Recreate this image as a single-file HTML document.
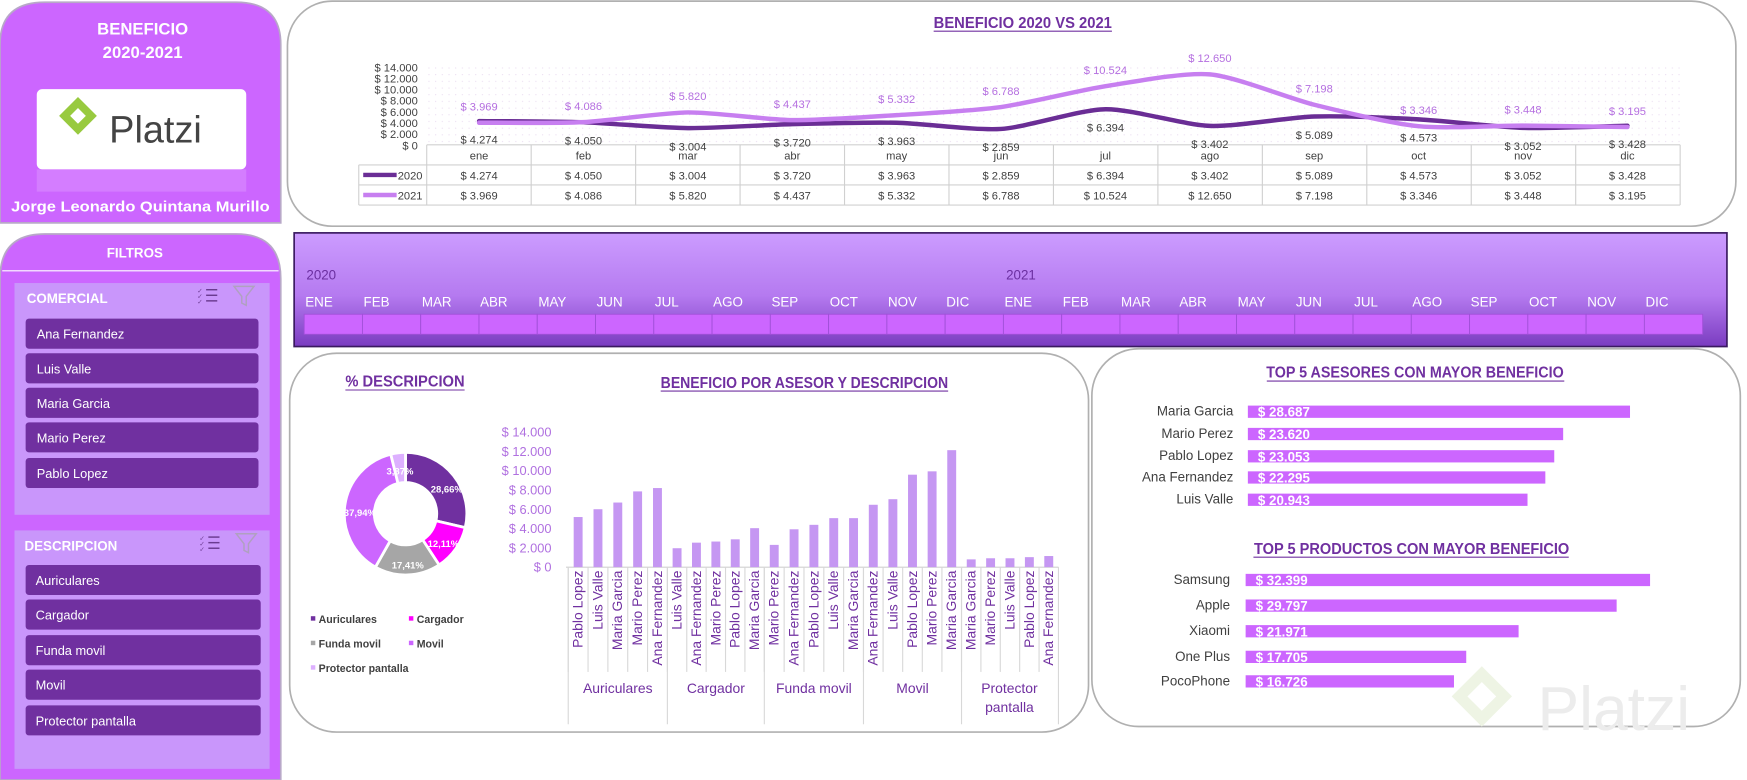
<!DOCTYPE html>
<html><head><meta charset="utf-8"><style>
html,body{margin:0;padding:0;background:#fff;width:1747px;height:780px;overflow:hidden}
svg{display:block}
text{font-family:"Liberation Sans Narrow","Liberation Sans",sans-serif}
</style></head><body>
<svg id="s" width="1747" height="780" viewBox="0 0 1568 700" preserveAspectRatio="none" xmlns="http://www.w3.org/2000/svg">
<defs>
<linearGradient id="tl" x1="0" y1="0" x2="0" y2="1"><stop offset="0" stop-color="#cc9cff"/><stop offset="0.55" stop-color="#b57af0"/><stop offset="1" stop-color="#7a3cc0"/></linearGradient>
<pattern id="dots" width="6" height="6" patternUnits="userSpaceOnUse"><circle cx="1" cy="1" r="0.5" fill="#e6d6ee"/></pattern>
</defs>
<!-- left top panel -->
<path d="M0,40 Q0,2 40,2 L212,2 Q252,2 252,40 L252,200 L0,200 Z" fill="#cc66ff" stroke="#b8a8c8" stroke-width="1.5"/>
<text x="128" y="31" text-anchor="middle" fill="#fff" font-weight="bold" font-size="15">BENEFICIO</text>
<text x="128" y="52" text-anchor="middle" fill="#fff" font-weight="bold" font-size="15">2020-2021</text>
<rect x="33" y="80" width="188" height="72" rx="5" fill="#fff"/>
<rect x="33" y="152" width="188" height="20" fill="#d88cff" opacity="0.6"/>
<path d="M70,92 L82,104 L70,116 L58,104 Z" fill="none" stroke="#98ca3f" stroke-width="7"/>
<text x="98" y="128" fill="#444" font-size="34" font-family="Liberation Sans">Platzi</text>
<text x="126" y="190" text-anchor="middle" fill="#fff" font-weight="bold" font-size="13" textLength="232" lengthAdjust="spacingAndGlyphs">Jorge Leonardo Quintana Murillo</text>
<!-- filtros panel -->
<path d="M0,250 Q0,210 40,210 L212,210 Q252,210 252,250 L252,700 L0,700 Z" fill="#cc66ff" stroke="#b8a8c8" stroke-width="1.5"/>
<text x="121" y="231" text-anchor="middle" fill="#fff" font-weight="bold" font-size="12">FILTROS</text>
<line x1="2" y1="243" x2="250" y2="243" stroke="#fff" stroke-width="1"/>
<rect x="13" y="254" width="229" height="208" fill="#c996fb"/>
<rect x="13" y="476" width="229" height="214" fill="#c996fb"/>
<text x="24" y="272" fill="#fff" font-weight="bold" font-size="12">COMERCIAL</text>
<text x="22" y="494" fill="#fff" font-weight="bold" font-size="12">DESCRIPCION</text>
<g id="btns"></g>
<!-- line chart panel -->
<rect x="258" y="1" width="1300" height="202" rx="40" fill="#fff" stroke="#b0b0b0" stroke-width="1.5"/>
<text x="918" y="25" text-anchor="middle" fill="#7030a0" font-weight="bold" font-size="14" textLength="160" lengthAdjust="spacingAndGlyphs">BENEFICIO 2020 VS 2021</text>
<line x1="838" y1="28" x2="998" y2="28" stroke="#7030a0" stroke-width="1"/>
<rect x="383" y="60" width="1125" height="70" fill="url(#dots)"/>
<g id="lc"></g>
<!-- timeline -->
<rect x="264" y="209" width="1286" height="102" fill="url(#tl)" stroke="#3a1a60" stroke-width="1.5"/>
<text x="275" y="251" fill="#6b2fa0" font-size="12">2020</text>
<text x="903" y="251" fill="#6b2fa0" font-size="12">2021</text>
<g id="tlg"></g>
<!-- lower left panel -->
<rect x="260" y="317" width="717" height="340" rx="42" fill="#fff" stroke="#b0b0b0" stroke-width="1.5"/>
<text x="310" y="347" fill="#7030a0" font-weight="bold" font-size="14" textLength="107" lengthAdjust="spacingAndGlyphs">%  DESCRIPCION</text>
<line x1="310" y1="350" x2="417" y2="350" stroke="#7030a0"/>
<text x="722" y="348" text-anchor="middle" fill="#7030a0" font-weight="bold" font-size="14" textLength="258" lengthAdjust="spacingAndGlyphs">BENEFICIO POR ASESOR Y DESCRIPCION</text>
<line x1="593" y1="351" x2="851" y2="351" stroke="#7030a0"/>
<g id="donut"></g>
<g id="bars"></g>
<!-- lower right panel -->
<rect x="980" y="313" width="582" height="339" rx="42" fill="#fff" stroke="#b0b0b0" stroke-width="1.5"/>
<text x="1270" y="339" text-anchor="middle" fill="#7030a0" font-weight="bold" font-size="14" textLength="267" lengthAdjust="spacingAndGlyphs">TOP 5 ASESORES CON MAYOR BENEFICIO</text>
<line x1="1137" y1="342" x2="1404" y2="342" stroke="#7030a0"/>
<text x="1267" y="497" text-anchor="middle" fill="#7030a0" font-weight="bold" font-size="14" textLength="283" lengthAdjust="spacingAndGlyphs">TOP 5 PRODUCTOS CON MAYOR BENEFICIO</text>
<line x1="1125" y1="500" x2="1408" y2="500" stroke="#7030a0"/>
<g id="top"></g>
<path d="M1330,605 L1350,625 L1330,645 L1310,625 Z" fill="none" stroke="#eef4e4" stroke-width="10"/>
<text x="1380" y="655" fill="#ececec" font-size="56" font-family="Liberation Sans">Platzi</text>
</svg>
<script>
const NS="http://www.w3.org/2000/svg";
function el(p,t,a,txt){const e=document.createElementNS(NS,t);for(const k in a)e.setAttribute(k,a[k]);if(txt!==undefined)e.textContent=txt;document.getElementById(p).appendChild(e);return e;}
const com=["Ana Fernandez","Luis Valle","Maria Garcia","Mario Perez","Pablo Lopez"];
com.forEach((n,i)=>{const y=[286,317,348,379,411][i];el("btns","rect",{x:23,y:y,width:209,height:27,rx:3,fill:"#7030a0"});el("btns","text",{x:33,y:y+18,fill:"#fff","font-size":11.5,"font-family":"Liberation Sans"},n);});
const des=["Auriculares","Cargador","Funda movil","Movil","Protector pantalla"];
des.forEach((n,i)=>{const y=[507,538,570,601,633][i];el("btns","rect",{x:23,y:y,width:211,height:27,rx:3,fill:"#7030a0"});el("btns","text",{x:32,y:y+18,fill:"#fff","font-size":11.5,"font-family":"Liberation Sans"},n);});
[[185,266],[187,488]].forEach(([x,y])=>{for(let k=0;k<3;k++){el("btns","line",{x1:x,y1:y-6+k*5,x2:x+10,y2:y-6+k*5,stroke:"#6a3a90","stroke-width":1.3});el("btns","text",{x:x-8,y:y-3+k*5,fill:"#6a3a90","font-size":6},"✓");}
 el("btns","path",{d:`M${x+25},${y-9} L${x+43},${y-9} L${x+36},${y} L${x+36},${y+8} L${x+32},${y+6} L${x+32},${y} Z`,fill:"none",stroke:"#b0a0c0","stroke-width":1.3});});
const m=["ene","feb","mar","abr","may","jun","jul","ago","sep","oct","nov","dic"];
const a=[4274,4050,3004,3720,3963,2859,6394,3402,5089,4573,3052,3428];
const b=[3969,4086,5820,4437,5332,6788,10524,12650,7198,3346,3448,3195];
const f=v=>"$ "+v.toLocaleString("de-DE");
const X=i=>430+i*93.7, Y=v=>130-v/200;
const FS=10;
for(let k=0;k<=7;k++){el("lc","text",{x:375,y:130-k*10+4,"text-anchor":"end",fill:"#404040","font-size":FS},k==0?"$ 0":"$ "+(k*2).toString()+".000");}
function smooth(d){const p=d.map((v,i)=>[X(i),Y(v)]);let s=`M${p[0][0]},${p[0][1]}`;for(let i=0;i<p.length-1;i++){const p0=p[i-1]||p[i],p1=p[i],p2=p[i+1],p3=p[i+2]||p2;s+=` C${p1[0]+(p2[0]-p0[0])/8},${p1[1]+(p2[1]-p0[1])/8} ${p2[0]-(p3[0]-p1[0])/8},${p2[1]-(p3[1]-p1[1])/8} ${p2[0]},${p2[1]}`;}return s;}
el("lc","path",{d:smooth(a),fill:"none",stroke:"#6a2d95","stroke-width":4,"stroke-linecap":"round"});
el("lc","path",{d:smooth(b),fill:"none",stroke:"#c77ff0","stroke-width":4,"stroke-linecap":"round"});
el("lc","line",{x1:383,y1:130,x2:1508,y2:130,stroke:"#d0d0d0"});
[148,166,184].forEach(y=>el("lc","line",{x1:322,y1:y,x2:1508,y2:y,stroke:"#d0d0d0"}));
el("lc","line",{x1:322,y1:148,x2:322,y2:184,stroke:"#d0d0d0"});
for(let i=0;i<=12;i++){const x=383+i*93.75;el("lc","line",{x1:x,y1:130,x2:x,y2:184,stroke:"#d0d0d0"});}
m.forEach((n,i)=>{el("lc","text",{x:X(i),y:143,"text-anchor":"middle",fill:"#404040","font-size":FS},n);
 el("lc","text",{x:X(i),y:161,"text-anchor":"middle",fill:"#404040","font-size":FS},f(a[i]));
 el("lc","text",{x:X(i),y:179,"text-anchor":"middle",fill:"#404040","font-size":FS},f(b[i]));
 el("lc","text",{x:X(i),y:Y(b[i])-11,"text-anchor":"middle",fill:"#b56fe0","font-size":FS},f(b[i]));
 el("lc","text",{x:X(i),y:Y(a[i])+20,"text-anchor":"middle",fill:"#404040","font-size":FS},f(a[i]));});
el("lc","line",{x1:326,y1:157,x2:356,y2:157,stroke:"#6a2d95","stroke-width":4});
el("lc","line",{x1:326,y1:175,x2:356,y2:175,stroke:"#c77ff0","stroke-width":4});
el("lc","text",{x:357,y:161,fill:"#404040","font-size":FS},"2020");
el("lc","text",{x:357,y:179,fill:"#404040","font-size":FS},"2021");
const M=["ENE","FEB","MAR","ABR","MAY","JUN","JUL","AGO","SEP","OCT","NOV","DIC"];
for(let i=0;i<24;i++){const x=273+i*52.3;el("tlg","rect",{x:x,y:282,width:52.3,height:18,fill:"#cc66ff",stroke:"#a050d8","stroke-width":0.8});
 el("tlg","text",{x:x+1,y:275,fill:"#fff","font-size":12},M[i%12]);}
const cx=364,cy=461,R=55,r=28;
const seg=[[28.66,"#7030a0"],[12.11,"#ff00ff"],[17.41,"#a6a6a6"],[37.94,"#cc66ff"],[3.87,"#ddb0ff"]];
let st=0;seg.forEach(([p,c])=>{const a0=st/100*2*Math.PI,a1=(st+p)/100*2*Math.PI;st+=p;
 const pt=(rr,an)=>[cx+rr*Math.sin(an),cy-rr*Math.cos(an)];const L=(a1-a0)>Math.PI?1:0;
 const [x0,y0]=pt(R,a0),[x1,y1]=pt(R,a1),[x2,y2]=pt(r,a1),[x3,y3]=pt(r,a0);
 el("donut","path",{d:`M${x0},${y0} A${R},${R} 0 ${L} 1 ${x1},${y1} L${x2},${y2} A${r},${r} 0 ${L} 0 ${x3},${y3}Z`,fill:c,stroke:"#fff","stroke-width":2.5});});
[[401,442,"28,66%"],[398,491,"12,11%"],[366,510,"17,41%"],[323,463,"37,94%"],[359,426,"3,87%"]].forEach(([x,y,t])=>el("donut","text",{x:x,y:y,"text-anchor":"middle",fill:"#fff","font-size":8.5,"font-weight":"bold"},t));
[[282,559,"#7030a0","Auriculares"],[370,559,"#ff00ff","Cargador"],[282,581,"#a6a6a6","Funda movil"],[370,581,"#cc66ff","Movil"],[282,603,"#ddb0ff","Protector pantalla"]].forEach(([x,y,c,t])=>{el("donut","rect",{x:x-3,y:y-6,width:4,height:4,fill:c});el("donut","text",{x:x+4,y:y,fill:"#404040","font-size":9.5,"font-weight":"bold"},t);});
for(let k=0;k<=7;k++){el("bars","text",{x:495,y:509-k*17.3+4,"text-anchor":"end",fill:"#b070e0","font-size":11.5,"font-family":"Liberation Sans"},k==0?"$ 0":"$ "+(k*2)+".000");}
el("bars","line",{x1:508,y1:509,x2:950,y2:509,stroke:"#d0d0d0"});
const names=[["Pablo Lopez","Luis Valle","Maria Garcia","Mario Perez","Ana Fernandez"],["Luis Valle","Ana Fernandez","Mario Perez","Pablo Lopez","Maria Garcia"],["Mario Perez","Ana Fernandez","Pablo Lopez","Luis Valle","Maria Garcia"],["Ana Fernandez","Luis Valle","Pablo Lopez","Mario Perez","Maria Garcia"],["Maria Garcia","Mario Perez","Luis Valle","Pablo Lopez","Ana Fernandez"]];
const tops=[[464,457,451,441,438],[492,487,486,484,474],[489,475,471,465,465],[453,448,426,423,404],[502,501,501,500,499]];
const gx=[510,599,686,775,863,950];
for(let g=0;g<5;g++){const w=(gx[g+1]-gx[g])/5;
 for(let j=0;j<5;j++){const x=gx[g]+j*w+w/2;el("bars","rect",{x:x-4,y:tops[g][j],width:8,height:509-tops[g][j],fill:"#c597f2"});
  el("bars","text",{x:x+4,y:512,transform:`rotate(-90 ${x+4} 512)`,"text-anchor":"end",fill:"#7030a0","font-size":12.5,"font-family":"Liberation Sans"},names[g][j]);
  el("bars","line",{x1:gx[g]+j*w,y1:509,x2:gx[g]+j*w,y2:603,stroke:"#d8d8d8"});}
 el("bars","line",{x1:gx[g],y1:509,x2:gx[g],y2:650,stroke:"#d8d8d8"});}
el("bars","line",{x1:950,y1:509,x2:950,y2:650,stroke:"#d8d8d8"});
["Auriculares","Cargador","Funda movil","Movil"].forEach((t,g)=>el("bars","text",{x:(gx[g]+gx[g+1])/2,y:622,"text-anchor":"middle",fill:"#7030a0","font-size":12.5,"font-family":"Liberation Sans"},t));
el("bars","text",{x:906,y:622,"text-anchor":"middle",fill:"#7030a0","font-size":12.5,"font-family":"Liberation Sans"},"Protector");
el("bars","text",{x:906,y:639,"text-anchor":"middle",fill:"#7030a0","font-size":12.5,"font-family":"Liberation Sans"},"pantalla");
[["Maria Garcia",1463,369,"$ 28.687"],["Mario Perez",1403,389,"$ 23.620"],["Pablo Lopez",1395,409,"$ 23.053"],["Ana Fernandez",1387,428,"$ 22.295"],["Luis Valle",1371,448,"$ 20.943"]].forEach(([n,e,y,v])=>{
 el("top","text",{x:1107,y:y+4,"text-anchor":"end",fill:"#404040","font-size":12,"font-family":"Liberation Sans"},n);
 el("top","rect",{x:1120,y:y-5,width:e-1120,height:11,fill:"#cc66ff"});
 el("top","text",{x:1129,y:y+5,fill:"#fff","font-size":12,"font-weight":"bold","font-family":"Liberation Sans"},v);});
[["Samsung",1481,520,"$ 32.399"],["Apple",1451,543,"$ 29.797"],["Xiaomi",1363,566,"$ 21.971"],["One Plus",1316,589,"$ 17.705"],["PocoPhone",1305,611,"$ 16.726"]].forEach(([n,e,y,v])=>{
 el("top","text",{x:1104,y:y+4,"text-anchor":"end",fill:"#404040","font-size":12,"font-family":"Liberation Sans"},n);
 el("top","rect",{x:1118,y:y-5,width:e-1118,height:11,fill:"#cc66ff"});
 el("top","text",{x:1127,y:y+5,fill:"#fff","font-size":12,"font-weight":"bold","font-family":"Liberation Sans"},v);});
</script>
</body></html>
